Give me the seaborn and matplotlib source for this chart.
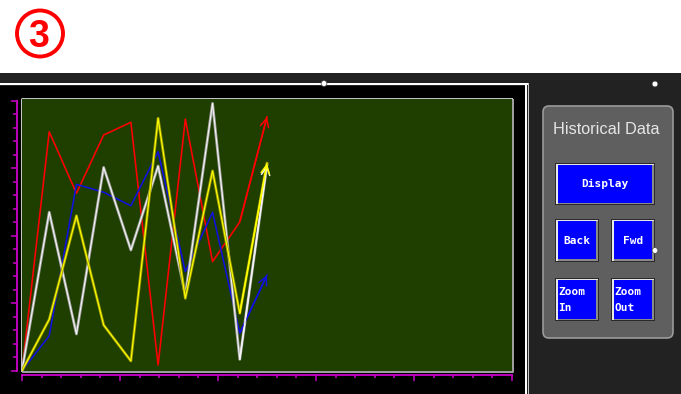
import numpy as np
import pandas as pd
import matplotlib
matplotlib.use("Agg")
import matplotlib.pyplot as plt
import matplotlib.patheffects as pe
from matplotlib.patches import Rectangle, FancyBboxPatch, Circle
import seaborn as sns

# ---------------- data (trend pens, value in % of span) ----------------
samples = [0, 1, 2, 3, 4, 5, 6, 7, 8, 9]
pen_red = [0, 88.5, 65.7, 87.3, 92.0, 2.1, 93.2, 40.4, 55.1, 94.0]
pen_blue = [0, 12.9, 69.0, 66.1, 61.1, 81.1, 36.7, 58.7, 13.9, 35.4]
pen_white = [0, 58.7, 13.6, 75.3, 44.7, 75.8, 28.0, 99.0, 4.2, 76.2]
pen_yellow = [0, 19.0, 57.4, 16.9, 3.6, 93.5, 26.8, 74.0, 21.3, 76.8]
pen_names = ["Pen 1", "Pen 2", "Pen 3", "Pen 4"]
pen_colors = ["#ff0000", "#1010e0", "#f4f4f4", "#ffff00"]
panel_title = "Historical Data"
buttons = ["Display", "Back", "Fwd", "Zoom\nIn", "Zoom\nOut"]
step_label = "3"

W, H = 681, 394
fig = plt.figure(figsize=(W / 100, H / 100), dpi=100)
fig.patch.set_facecolor("white")

# background canvas in pixel coordinates
bg = fig.add_axes([0, 0, 1, 1])
bg.set_xlim(0, W)
bg.set_ylim(H, 0)
bg.axis("off")

bg.add_patch(Rectangle((0, 72.5), W, H - 72.5, fc="#222222", ec="none"))
bg.add_patch(Rectangle((0, 82.5), 528, 2.5, fc="white", ec="none"))
bg.add_patch(Rectangle((0, 86), 525, H - 86, fc="black", ec="none"))
bg.add_patch(Rectangle((525.3, 83), 1.6, H - 83, fc="white", ec="none"))
bg.add_patch(Rectangle((527.6, 83), 1.2, H - 83, fc="#c8c8c8", ec="none"))
for (cx, cy) in [(324, 83.5), (655, 84), (655, 250.5)]:
    bg.add_patch(Circle((cx, cy), 2.9, fc="white", ec="#404040", lw=0.5, zorder=5))

# step marker
bg.add_patch(Circle((40, 33.5), 23, fill=False, ec="#ff0000", lw=2.8))
bg.text(38.8, 46.8, step_label, color="#ff0000", fontsize=27, fontweight="bold",
        family="Liberation Sans", ha="center", va="baseline")

# plot frame (white top/left, gray bottom/right)
bg.plot([21.5, 21.5, 513], [372, 98.5, 98.5], color="white", lw=1.1, solid_capstyle="butt")
bg.plot([21.5, 512.8, 512.8], [372.3, 372.3, 98.5], color="#b0b0b0", lw=1.3, solid_capstyle="butt")

# right control panel
bg.add_patch(FancyBboxPatch((543, 106), 130, 232, boxstyle="round,pad=0,rounding_size=6",
                            fc="#5f5f5f", ec="#9a9a9a", lw=1.2))
bg.text(606.3, 134, panel_title, color="#e6e6e6", fontsize=11.7, family="Liberation Sans",
        ha="center", va="baseline")


def button(x0, y0, x1, y1, label, align="center"):
    bg.add_patch(Rectangle((x0 - 1, y0 - 1), x1 - x0 + 2, y1 - y0 + 2, fc="#2a2a2a", ec="none"))
    bg.add_patch(Rectangle((x0, y0), x1 - x0, y1 - y0, fc="#e8e8e8", ec="none"))
    bg.add_patch(Rectangle((x0 + 1.5, y0 + 1.5), x1 - x0 - 1.5, y1 - y0 - 1.5, fc="#8a8a8a", ec="none"))
    bg.add_patch(Rectangle((x0 + 1.5, y0 + 1.5), x1 - x0 - 3, y1 - y0 - 3, fc="#0000ff", ec="none"))
    if align == "center":
        bg.text((x0 + x1) / 2, (y0 + y1) / 2 + 0.5, label, color="white", fontsize=8,
                family="DejaVu Sans Mono", fontweight="bold", ha="center", va="center")
    else:
        bg.text(x0 + 2.5, (y0 + y1) / 2 + 0.5, label, color="white", fontsize=8,
                family="DejaVu Sans Mono", fontweight="bold", ha="left", va="center",
                linespacing=1.75)


button(556, 163.5, 653.5, 204, buttons[0])
button(556, 219.5, 597.5, 260.5, buttons[1])
button(612, 219.5, 653.5, 260.5, buttons[2])
button(556, 278.5, 597.5, 320, buttons[3], align="left")
button(612, 278.5, 653.5, 320, buttons[4], align="left")

# ---------------- trend plot ----------------
ax = fig.add_axes([22 / W, 1 - 371 / H, 490 / W, 272 / H])
ax.set_facecolor("#1f3f00")

df = pd.DataFrame({
    "sample": samples * 4,
    "value": pen_red + pen_blue + pen_white + pen_yellow,
    "pen": sum([[n] * len(samples) for n in pen_names], []),
})
sns.lineplot(data=df, x="sample", y="value", hue="pen", hue_order=pen_names,
             palette=dict(zip(pen_names, pen_colors)), estimator=None, sort=False,
             legend=False, ax=ax, linewidth=1.15)

halo = {"Pen 1": None, "Pen 2": None, "Pen 3": "#a0a0a0", "Pen 4": "#9a9a00"}
series = dict(zip(pen_names, [pen_red, pen_blue, pen_white, pen_yellow]))
for line, name in zip(ax.lines, pen_names):
    if halo[name]:
        line.set_linewidth(0.8)
        line.set_path_effects([pe.Stroke(linewidth=2.0, foreground=halo[name]), pe.Normal()])
    ys = series[name]
    ax.annotate("", xy=(samples[-1], ys[-1]), xytext=(samples[-2], ys[-2]),
                arrowprops=dict(arrowstyle="->,head_length=0.6,head_width=0.3",
                                color=pen_colors[pen_names.index(name)], lw=1.1,
                                shrinkA=0, shrinkB=0), zorder=3)

ax.set_xlim(0, 18)
ax.set_ylim(-0.11, 100.63)
ax.set_xlabel("")
ax.set_ylabel("")
ax.set_xticks(np.linspace(0, 18, 6))
ax.set_xticks(np.linspace(0, 18, 26), minor=True)
ax.set_yticks(np.linspace(0, 100, 5))
ax.set_yticks(np.linspace(0, 100, 21), minor=True)
ax.tick_params(which="both", direction="out", color="#cc00cc", width=1.1,
               labelbottom=False, labelleft=False)
ax.tick_params(axis="y", which="major", length=4.3)
ax.tick_params(axis="y", which="minor", length=3.0)
ax.tick_params(axis="x", which="major", length=4.3)
ax.tick_params(axis="x", which="minor", length=2.5)
for s in ["top", "right"]:
    ax.spines[s].set_visible(False)
ax.spines["left"].set_position(("outward", 3.6))
ax.spines["bottom"].set_position(("outward", 2.9))
ax.spines["left"].set_bounds(0, 100)
for s in ["left", "bottom"]:
    ax.spines[s].set_color("#cc00cc")
    ax.spines[s].set_linewidth(1.3)
ax.grid(False)

fig.savefig("out.png", dpi=100, facecolor=fig.get_facecolor())
